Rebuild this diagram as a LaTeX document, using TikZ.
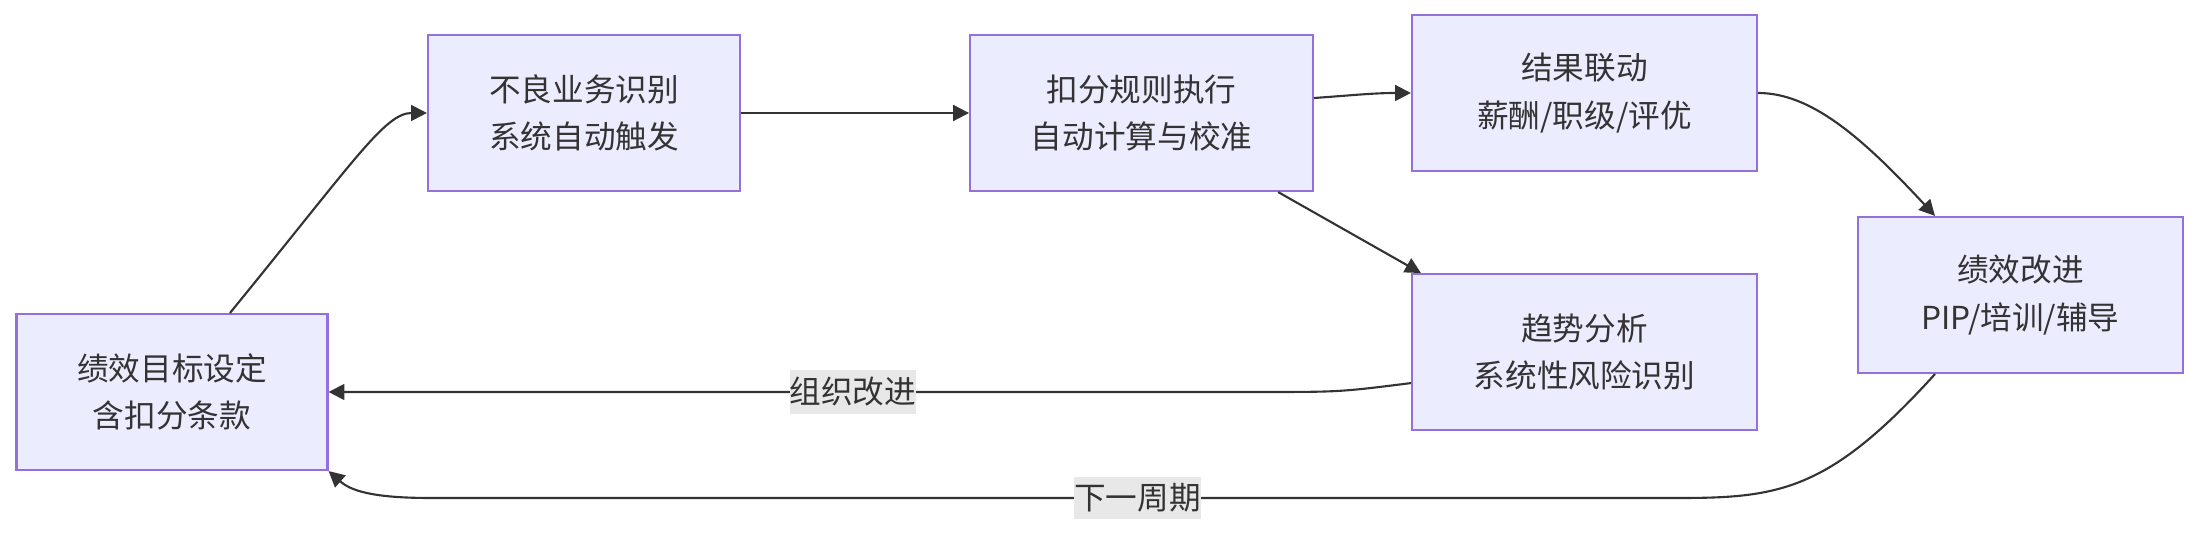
\documentclass[tikz,border=0pt]{standalone}
\usepackage{fontspec}
\usepackage{xcolor}
\usepackage{tikz}
\usetikzlibrary{arrows.meta,positioning,calc}
\newfontfamily\cjk{Noto Sans CJK SC}
\definecolor{boxfill}{HTML}{ECECFF}
\definecolor{boxline}{HTML}{9370DB}
\definecolor{ink}{HTML}{333333}
\definecolor{lblfill}{HTML}{E8E8E8}

\begin{document}
\begin{tikzpicture}[
  box/.style={rectangle,draw=boxline,fill=boxfill,line width=0.6pt,minimum height=1.56cm,
              align=center,text=ink,font=\cjk\fontsize{9}{13.5}\selectfont},
  lbl/.style={fill=lblfill,text=ink,inner xsep=0pt,inner ysep=2pt,
              font=\cjk\fontsize{9}{13.5}\selectfont},
  arr/.style={-{Triangle[length=4.5pt,width=4.5pt]},draw=ink,line width=0.6pt}
]
  \useasboundingbox (0,0) rectangle (21.99,-5.38);

  \node[box,minimum width=3.11cm] (goal) at (1.72,-3.92) {绩效目标设定\\含扣分条款};
  \node[box,minimum width=3.12cm] (detect) at (5.84,-1.13) {不良业务识别\\系统自动触发};
  \node[box,minimum width=3.43cm,right=2.28cm of detect] (rule) {扣分规则执行\\自动计算与校准};
  \node[box,minimum width=3.45cm] (link) at (15.845,-0.93) {结果联动\\薪酬/职级/评优};
  \node[box,minimum width=3.45cm,below=1.01cm of link] (trend) {趋势分析\\系统性风险识别};
  \node[box,minimum width=3.25cm] (improve) at (20.205,-2.95) {绩效改进\\PIP/培训/辅导};

  \draw[arr] ([xshift=0.58cm]goal.north) .. controls (3.55,-1.6) and (3.85,-1.13) .. (detect.west);
  \draw[arr] (detect) -- (rule);
  \draw[arr] ([yshift=0.15cm]rule.east) to[out=4,in=180] (link.west);
  \draw[arr] ([xshift=1.365cm]rule.south) -- ([xshift=0.1cm]trend.north west);
  \draw[arr] (link.east) .. controls (18.1,-0.93) and (18.6,-1.35) .. ([xshift=-0.855cm]improve.north);
  \draw[arr] ([yshift=-0.31cm]trend.west) .. controls (13.4,-3.92) .. (12.6,-3.92)
    -- node[lbl,pos=0.437] (lorg) {组织改进} (goal.east);
  \draw[arr] ([xshift=-0.855cm]improve.south) .. controls (18.3,-4.9) and (17.8,-4.98) .. (16.8,-4.98)
    -- node[lbl,pos=0.434] (lnext) {下一周期} (4.3,-4.98)
    .. controls (3.7,-4.98) and (3.5,-4.9) .. (goal.south east);
\end{tikzpicture}
\end{document}
